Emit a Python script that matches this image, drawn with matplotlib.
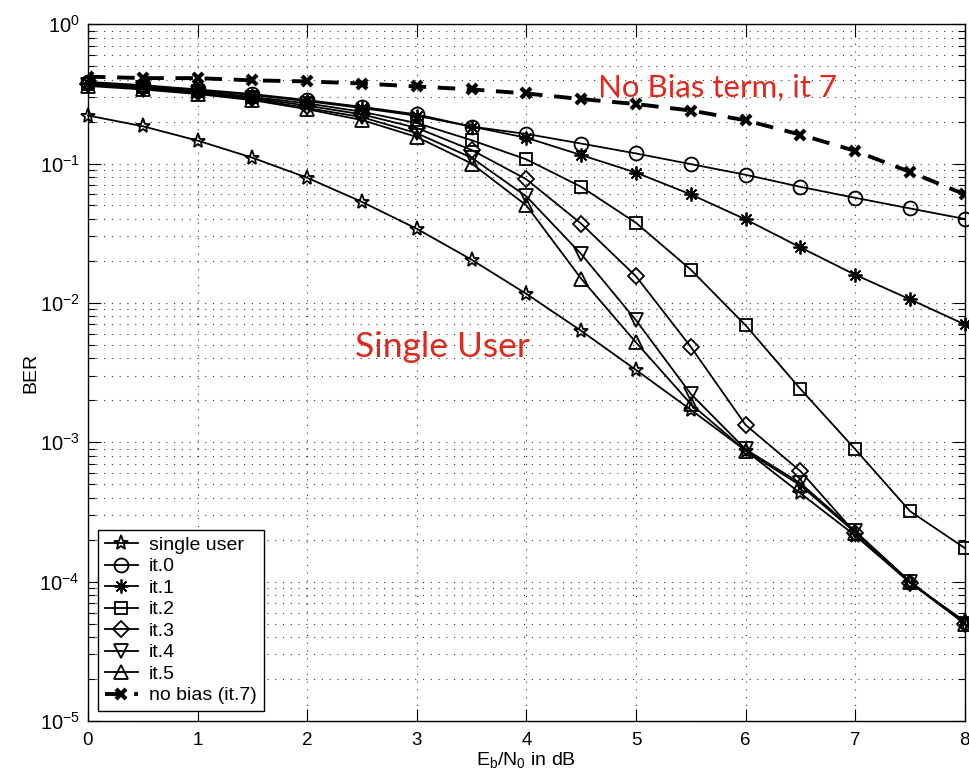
import numpy as np
import matplotlib
matplotlib.use("Agg")
import matplotlib.pyplot as plt
from matplotlib.ticker import LogLocator, FixedLocator

plt.rcParams['font.family'] = ['Liberation Sans', 'DejaVu Sans']
plt.rcParams['mathtext.fontset'] = 'custom'
plt.rcParams['mathtext.rm'] = 'Liberation Sans'
plt.rcParams['mathtext.it'] = 'Liberation Sans'
plt.rcParams['mathtext.default'] = 'regular'

# Eb/N0 in dB
ebno = [0, 0.5, 1, 1.5, 2, 2.5, 3, 3.5, 4, 4.5, 5, 5.5, 6, 6.5, 7, 7.5, 8]

# BER curves
single_user = [0.221, 0.185, 0.146, 0.110, 0.079, 0.053, 0.034, 0.0204, 0.0116,
               0.0063, 0.0033, 0.00171, 0.00087, 0.00043, 0.000214, 0.000098, 5.2e-5]
it0 = [0.385, 0.365, 0.34, 0.315, 0.285, 0.255, 0.225, 0.184, 0.163,
       0.139, 0.118, 0.099, 0.083, 0.068, 0.0567, 0.0476, 0.040]
it1 = [0.38, 0.36, 0.335, 0.31, 0.28, 0.25, 0.22, 0.184, 0.153,
       0.115, 0.086, 0.060, 0.0397, 0.025, 0.0159, 0.0106, 0.0070]
it2 = [0.375, 0.355, 0.33, 0.30, 0.27, 0.235, 0.195, 0.147, 0.107,
       0.068, 0.0375, 0.0173, 0.0069, 0.00241, 0.00089, 0.00032, 0.000174]
it3 = [0.37, 0.35, 0.325, 0.295, 0.26, 0.225, 0.18, 0.125, 0.077,
       0.037, 0.0155, 0.00483, 0.00133, 0.00062, 0.000224, 0.000098, 5.0e-5]
it4 = [0.365, 0.345, 0.32, 0.29, 0.25, 0.215, 0.165, 0.110, 0.058,
       0.0224, 0.0075, 0.00222, 0.00089, 0.000508, 0.00023, 0.0001, 5.0e-5]
it5 = [0.36, 0.34, 0.315, 0.285, 0.245, 0.205, 0.155, 0.100, 0.050,
       0.0149, 0.0052, 0.00188, 0.00087, 0.00049, 0.000225, 0.0001, 5.0e-5]
nobias = [0.42, 0.41, 0.41, 0.395, 0.388, 0.375, 0.357, 0.34, 0.318,
          0.29, 0.267, 0.24, 0.204, 0.161, 0.123, 0.087, 0.06]

fig = plt.figure(figsize=(9.7, 7.76), dpi=100)
ax = fig.add_axes([0.0907, 0.0709, 0.904, 0.898])

lw = 1.3
ms = 10
common = dict(color='black', linewidth=lw, markerfacecolor='none',
              markeredgecolor='black', markeredgewidth=1.3, clip_on=False)
ax.plot(ebno, single_user, marker='*', markersize=11, label='single user', **common)
ax.plot(ebno, it0, marker='o', markersize=ms, label='it.0', **common)
ax.plot(ebno, it1, marker=(8, 2, 0), markersize=ms, label='it.1', **common)
ax.plot(ebno, it2, marker='s', markersize=9, label='it.2', **common)
ax.plot(ebno, it3, marker='D', markersize=8, label='it.3', **common)
ax.plot(ebno, it4, marker='v', markersize=ms, label='it.4', **common)
ax.plot(ebno, it5, marker='^', markersize=ms, label='it.5', **common)
ax.plot(ebno, nobias, color='black', linewidth=2.8, linestyle=(0, (4.5, 3)),
        marker='x', markersize=7, markeredgewidth=3, label='no bias (it.7)')

ax.set_yscale('log')
ax.set_xlim(0, 8)
ax.set_ylim(1e-5, 1)
ax.xaxis.set_major_locator(FixedLocator(range(0, 9)))
ax.yaxis.set_major_locator(LogLocator(base=10, numticks=10))
ax.yaxis.set_minor_locator(LogLocator(base=10, subs=np.arange(2, 10), numticks=20))
ax.tick_params(which='both', direction='in', top=True, right=True)
ax.tick_params(axis='x', labelsize=13.5, pad=8)
ax.tick_params(axis='y', labelsize=14.5, pad=6)
ax.tick_params(which='major', length=9, width=0.8)
ax.tick_params(which='minor', length=5, width=0.8)

grid_style = dict(color='black', linestyle=(0, (1, 6)), linewidth=0.8, alpha=0.8)
ax.grid(True, which='major', axis='both', **grid_style)
ax.grid(True, which='minor', axis='y', **grid_style)

ax.set_xlabel(r'E$_\mathrm{b}$/N$_0$ in dB', fontsize=14, labelpad=1)
ax.set_ylabel('BER', fontsize=14)
ax.yaxis.set_label_coords(-0.055, 0.5)

red = '#e0281c'
ax.text(2.44, 4.1e-3, 'Single User', color=red, fontsize=25.5,
        family=['Lato', 'DejaVu Sans'])
ax.text(4.65, 0.30, 'No Bias term, it 7', color=red, fontsize=22.5,
        family=['Lato', 'DejaVu Sans'])

leg = ax.legend(loc='lower left', fontsize=14, fancybox=False, edgecolor='black',
                framealpha=1, borderpad=0.35, labelspacing=0.2, handlelength=1.7,
                handletextpad=0.6, borderaxespad=0.5)
leg.get_frame().set_linewidth(1.0)

for s in ax.spines.values():
    s.set_linewidth(1.0)

fig.savefig('out.png', dpi=100)
